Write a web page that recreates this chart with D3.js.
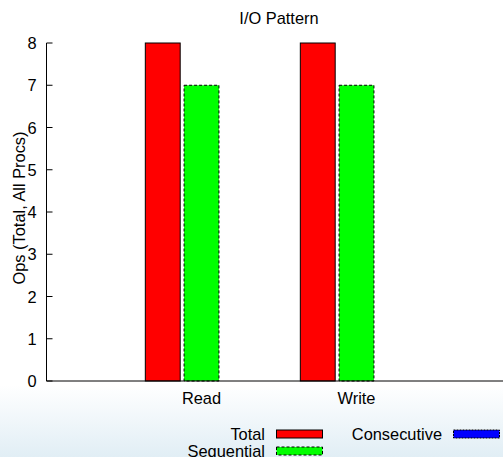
<!DOCTYPE html>
<html>
<head>
<meta charset="utf-8">
<script src="https://cdn.jsdelivr.net/npm/d3@7"></script>
<style>
  body { margin: 0; }
  text { font-family: "Liberation Sans", Arial, sans-serif; fill: #000; }
</style>
</head>
<body>
<div id="chart"></div>
<script>
// data
var categories = ["Read", "Write"];
var seriesNames = ["Total", "Sequential", "Consecutive"];
var totalOps = [8, 8];
var sequentialOps = [7, 7];
var consecutiveOps = [0, 0];
var yTicks = [0, 1, 2, 3, 4, 5, 6, 7, 8];

const width = 503, height = 457;
const colors = ["#ff0000", "#00ff00", "#0000ff"];
const dashes = [null, "3,2", "2,1"];
const fs = 16.4;

const svg = d3.select("#chart")
    .append("svg")
    .attr("width", width)
    .attr("height", height);

var grad = svg.append("defs").append("linearGradient")
    .attr("id", "bg").attr("x1", 0).attr("y1", 0).attr("x2", 0).attr("y2", 1);
grad.append("stop").attr("offset", "0%").attr("stop-color", "#ffffff");
grad.append("stop").attr("offset", "100%").attr("stop-color", "#e1eef5");

svg.append("rect").attr("width", width).attr("height", height).attr("fill", "#fff");
svg.append("rect").attr("y", 385).attr("width", width).attr("height", height - 385).attr("fill", "url(#bg)");

// gnuplot style x: cluster i centred at i, range -1..2
var x = d3.scaleLinear().domain([-1, 2]).range([46.5, 511.5]);
var y = d3.scaleLinear().domain([0, 8]).range([381, 43]);

var series = [totalOps, sequentialOps, consecutiveOps];
var slot = 0.25, boxw = 0.9 * slot;

series.forEach(function(vals, s) {
  svg.selectAll(".bar" + s)
    .data(vals)
    .enter()
    .append("rect")
    .attr("x", function(d, i) { return x(i + (s - 1) * slot - boxw / 2); })
    .attr("y", function(d) { return y(d); })
    .attr("width", x(boxw) - x(0))
    .attr("height", function(d) { return y(0) - y(d); })
    .attr("fill", colors[s])
    .attr("stroke", function(d) { return d > 0 ? "#000" : "none"; })
    .attr("stroke-width", 1)
    .attr("stroke-dasharray", dashes[s]);
});

// axes
var yAxis = svg.append("g").attr("transform", "translate(" + x(-1) + ",0)");
yAxis.append("line").attr("y1", y(0)).attr("y2", y(8)).attr("stroke", "#000");
yAxis.selectAll(".tick").data(yTicks).enter().append("line")
    .attr("x1", 0).attr("x2", 6)
    .attr("y1", function(d) { return y(d); }).attr("y2", function(d) { return y(d); })
    .attr("stroke", "#000");
yAxis.selectAll(".lbl").data(yTicks).enter().append("text")
    .attr("x", -10).attr("y", function(d) { return y(d) + 6; })
    .attr("text-anchor", "end").attr("font-size", fs)
    .text(function(d) { return d; });

svg.append("line")
    .attr("x1", x(-1)).attr("x2", x(2))
    .attr("y1", y(0)).attr("y2", y(0))
    .attr("stroke", "#000");

svg.selectAll(".xl").data(categories).enter().append("text")
    .attr("x", function(d, i) { return x(i); })
    .attr("y", 404)
    .attr("text-anchor", "middle").attr("font-size", fs)
    .text(function(d) { return d; });

svg.append("text")
    .attr("x", 279).attr("y", 24)
    .attr("text-anchor", "middle").attr("font-size", fs)
    .text("I/O Pattern");

svg.append("text")
    .attr("transform", "translate(24.5,208) rotate(-90)")
    .attr("text-anchor", "middle").attr("font-size", fs)
    .text("Ops (Total, All Procs)");

// legend
var legendPos = [[265, 434], [265, 451], [442, 434]];
seriesNames.forEach(function(name, s) {
  var p = legendPos[s];
  svg.append("text")
    .attr("x", p[0]).attr("y", p[1] + 5.5)
    .attr("text-anchor", "end").attr("font-size", fs)
    .text(name);
  svg.append("rect")
    .attr("x", p[0] + 11.5).attr("y", p[1] - 4)
    .attr("width", 46).attr("height", 8)
    .attr("fill", colors[s])
    .attr("stroke", "#000")
    .attr("stroke-dasharray", dashes[s]);
});
</script>
</body>
</html>
